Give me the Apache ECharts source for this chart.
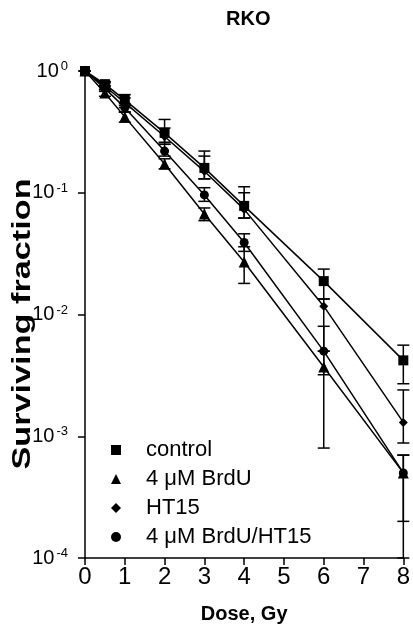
<!DOCTYPE html>
<html>
<head>
<meta charset="utf-8">
<script src="https://cdn.jsdelivr.net/npm/echarts@6/dist/echarts.min.js"></script>
<style>
  html, body { margin: 0; padding: 0; background: #fff; }
  #chart { width: 413px; height: 635px; }
</style>
</head>
<body>
<div id="chart"></div>
<script>
// dose (Gy)
var doses = [0, 0.5, 1, 2, 3, 4, 6, 8];

// surviving fraction
var control  = [1, 0.78, 0.58, 0.31, 0.16, 0.078, 0.0188, 0.0042];
var brdu     = [1, 0.66, 0.42, 0.172, 0.067, 0.027, 0.0037, 0.0005];
var ht15     = [1, 0.75, 0.55, 0.29, 0.15, 0.073, 0.0117, 0.0013];
var brduHt15 = [1, 0.72, 0.50, 0.22, 0.096, 0.039, 0.005, 0.0005];

// error bars (low / high)
var controlLo  = [1, 0.74, 0.52, 0.26, 0.13, 0.062, 0.0134, 0.0027];
var controlHi  = [1, 0.82, 0.64, 0.40, 0.22, 0.112, 0.0236, 0.0056];
var brduLo     = [1, 0.62, 0.38, 0.157, 0.059, 0.018, 0.0008, 0.0001];
var brduHi     = [1, 0.70, 0.46, 0.19, 0.075, 0.036, 0.005, 0.0007];
var ht15Lo     = [1, 0.71, 0.50, 0.25, 0.13, 0.062, 0.005, 0.00088];
var ht15Hi     = [1, 0.80, 0.60, 0.34, 0.20, 0.10, 0.0134, 0.0024];
var brduHt15Lo = [1, 0.68, 0.46, 0.20, 0.085, 0.033, 0.0032, 0.0002];
var brduHt15Hi = [1, 0.76, 0.54, 0.25, 0.11, 0.046, 0.008, 0.0007];

var names = ['control', '4 \u03bcM BrdU', 'HT15', '4 \u03bcM BrdU/HT15'];
var symbols = ['rect', 'triangle', 'diamond', 'circle'];
var symbolSizes = [10, 11, 9, 9];

var FONT = 'Liberation Sans';

function pairs(ys) {
  return doses.map(function (d, i) { return [d, ys[i]]; });
}
function bars(lo, hi) {
  return doses.map(function (d, i) { return [d, lo[i], hi[i]]; });
}

function errorBar(params, api) {
  var x = api.value(0);
  var lo = api.coord([x, api.value(1)]);
  var hi = api.coord([x, api.value(2)]);
  var w = 6;
  var st = { stroke: '#000', lineWidth: 1.5 };
  return {
    type: 'group',
    children: [
      { type: 'line', shape: { x1: lo[0], y1: lo[1], x2: hi[0], y2: hi[1] }, style: st },
      { type: 'line', shape: { x1: lo[0] - w, y1: lo[1], x2: lo[0] + w, y2: lo[1] }, style: st },
      { type: 'line', shape: { x1: hi[0] - w, y1: hi[1], x2: hi[0] + w, y2: hi[1] }, style: st }
    ]
  };
}

var values = [control, brdu, ht15, brduHt15];
var los = [controlLo, brduLo, ht15Lo, brduHt15Lo];
var his = [controlHi, brduHi, ht15Hi, brduHt15Hi];

var series = [];
values.forEach(function (v, k) {
  series.push({
    type: 'custom',
    name: names[k] + ' err',
    renderItem: errorBar,
    data: bars(los[k], his[k]),
    encode: { x: 0, y: [1, 2] },
    z: 1,
    silent: true
  });
});
values.forEach(function (v, k) {
  series.push({
    type: 'line',
    name: names[k],
    data: pairs(v),
    symbol: symbols[k],
    symbolSize: symbolSizes[k],
    showAllSymbol: true,
    clip: false,
    lineStyle: { color: '#000', width: 1.5 },
    itemStyle: { color: '#000' },
    z: 3
  });
});

var myChart = echarts.init(document.getElementById('chart'));
myChart.setOption({
  animation: false,
  backgroundColor: '#fff',
  title: {
    text: 'RKO',
    left: 221,
    top: 4,
    textStyle: { fontFamily: FONT, fontWeight: 'bold', fontSize: 20, color: '#000' }
  },
  grid: { left: 85, right: 4, top: 71, bottom: 77 },
  legend: {
    orient: 'vertical',
    left: 106,
    top: 433,
    itemWidth: 10,
    itemHeight: 10,
    itemGap: 5,
    data: names.map(function (n, k) { return { name: n, icon: symbols[k] }; }),
    textStyle: {
      fontFamily: FONT, fontSize: 22, color: '#000',
      padding: [0, 0, 0, 20], lineHeight: 24
    }
  },
  graphic: [{
    type: 'text',
    x: 23,
    y: 324,
    rotation: Math.PI / 2,
    scaleX: 1.37,
    style: {
      text: 'Surviving fraction',
      fontFamily: FONT,
      fontWeight: 'bold',
      fontSize: 25,
      fill: '#000',
      align: 'center',
      verticalAlign: 'middle'
    }
  }],
  xAxis: {
    type: 'value',
    min: 0,
    max: 8,
    interval: 1,
    name: 'Dose, Gy',
    nameLocation: 'middle',
    nameGap: 46,
    nameTextStyle: { fontFamily: FONT, fontWeight: 'bold', fontSize: 20, color: '#000' },
    splitLine: { show: false },
    axisLine: { lineStyle: { color: '#000', width: 1.5 } },
    axisTick: { length: 7, lineStyle: { color: '#000', width: 1.5 } },
    axisLabel: { fontFamily: FONT, fontSize: 24, color: '#000', margin: 7 }
  },
  yAxis: {
    type: 'log',
    logBase: 10,
    min: 0.0001,
    max: 1,
    splitLine: { show: false },
    minorTick: { show: false },
    axisLine: { lineStyle: { color: '#000', width: 1.5 } },
    axisTick: { length: 7, lineStyle: { color: '#000', width: 1.5 } },
    axisLabel: {
      margin: 17,
      formatter: function (v) {
        var e = Math.round(Math.log(v) / Math.LN10);
        return '{b|10}{s|' + e + '}';
      },
      rich: {
        b: { fontFamily: FONT, fontSize: 20, color: '#000' },
        s: { fontFamily: FONT, fontSize: 13, color: '#000', verticalAlign: 'top', padding: [0, 0, 9, 2] }
      }
    }
  },
  series: series
});
</script>
</body>
</html>
